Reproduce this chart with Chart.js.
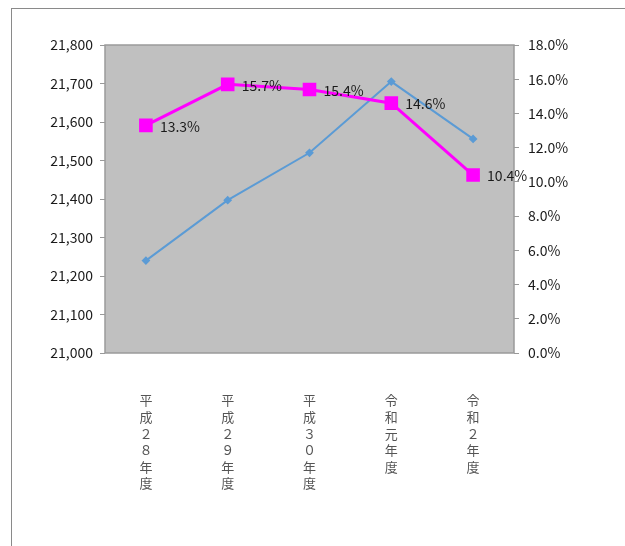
<!DOCTYPE html>
<html>
<head>
<meta charset="utf-8">
<script src="https://cdn.jsdelivr.net/npm/chart.js@4"></script>
<style>
  html, body { margin: 0; padding: 0; background: #fff; }
  #wrap { position: relative; width: 625px; height: 546px; }
  #frame { position: absolute; left: 11px; top: 8px; right: 0; bottom: 0;
           border-left: 1px solid #8a8a8a; border-top: 1px solid #8a8a8a; }
  canvas { position: absolute; left: 0; top: 0; }
</style>
</head>
<body>
<div id="wrap">
  <div id="frame"></div>
  <canvas id="chart" width="625" height="546"></canvas>
</div>
<script>
// category labels (vertical text, one char per line)
const years = ["平成２８年度", "平成２９年度", "平成３０年度", "令和元年度", "令和２年度"];
// left axis series
const counts = [21240, 21397, 21520, 21705, 21556];
// right axis series (%)
const rates = [13.3, 15.7, 15.4, 14.6, 10.4];

const tickFont = { family: "'Noto Sans CJK JP', 'DejaVu Sans', sans-serif", size: 14 };

// gray plot area with border
const plotBg = {
  id: "plotBg",
  beforeDatasetsDraw(chart) {
    const { ctx, chartArea: a } = chart;
    ctx.save();
    ctx.fillStyle = "#c0c0c0";
    ctx.fillRect(a.left, a.top, a.right - a.left, a.bottom - a.top);
    ctx.strokeStyle = "#9a9a9a";
    ctx.lineWidth = 1.5;
    ctx.strokeRect(a.left, a.top, a.right - a.left, a.bottom - a.top);
    ctx.restore();
  }
};

// percent labels to the right of the magenta points
const rateLabels = {
  id: "rateLabels",
  afterDatasetsDraw(chart) {
    const { ctx } = chart;
    const meta = chart.getDatasetMeta(0);
    ctx.save();
    ctx.font = "14px " + tickFont.family;
    ctx.fillStyle = "#1a1a1a";
    ctx.textBaseline = "middle";
    ctx.textAlign = "left";
    meta.data.forEach((pt, i) => {
      ctx.fillText(rates[i].toFixed(1) + "%", pt.x + 14, pt.y + 1);
    });
    ctx.restore();
  }
};

new Chart(document.getElementById("chart"), {
  type: "line",
  data: {
    labels: years.map((s) => s.split("")),
    datasets: [
      {
        data: rates,
        yAxisID: "y1",
        borderColor: "#ff00ff",
        backgroundColor: "#ff00ff",
        borderWidth: 3,
        pointStyle: "rect",
        pointRadius: 7.5,
        tension: 0,
        order: 0
      },
      {
        data: counts,
        yAxisID: "y",
        borderColor: "#5b9bd5",
        backgroundColor: "#5b9bd5",
        borderWidth: 2,
        pointStyle: "rectRot",
        pointRadius: 3,
        tension: 0,
        order: 1
      }
    ]
  },
  options: {
    responsive: false,
    animation: false,
    layout: { padding: { top: 45, left: 0, right: 0, bottom: 0 } },
    plugins: { legend: { display: false }, tooltip: { enabled: false } },
    scales: {
      x: {
        offset: true,
        grid: { display: false },
        border: { display: false },
        ticks: {
          autoSkip: false,
          maxRotation: 0,
          padding: 31,
          color: "#555",
          font: { family: "'Noto Sans CJK JP', sans-serif", size: 13, lineHeight: 1.28 }
        },
        afterFit(scale) { scale.height = 193; }
      },
      y: {
        position: "left",
        min: 21000,
        max: 21800,
        grid: { drawOnChartArea: false, tickLength: 5, color: "#999" },
        border: { display: false },
        ticks: {
          stepSize: 100,
          padding: 7,
          color: "#1a1a1a",
          font: tickFont,
          callback: (v) => v.toLocaleString("en-US")
        },
        afterFit(scale) { scale.width = 105; }
      },
      y1: {
        position: "right",
        min: 0,
        max: 18,
        grid: { drawOnChartArea: false, tickLength: 5, color: "#999" },
        border: { display: false },
        ticks: {
          stepSize: 2,
          padding: 9,
          color: "#1a1a1a",
          font: tickFont,
          callback: (v) => v.toFixed(1) + "%"
        },
        afterFit(scale) { scale.width = 111; }
      }
    }
  },
  plugins: [plotBg, rateLabels]
});
</script>
</body>
</html>
